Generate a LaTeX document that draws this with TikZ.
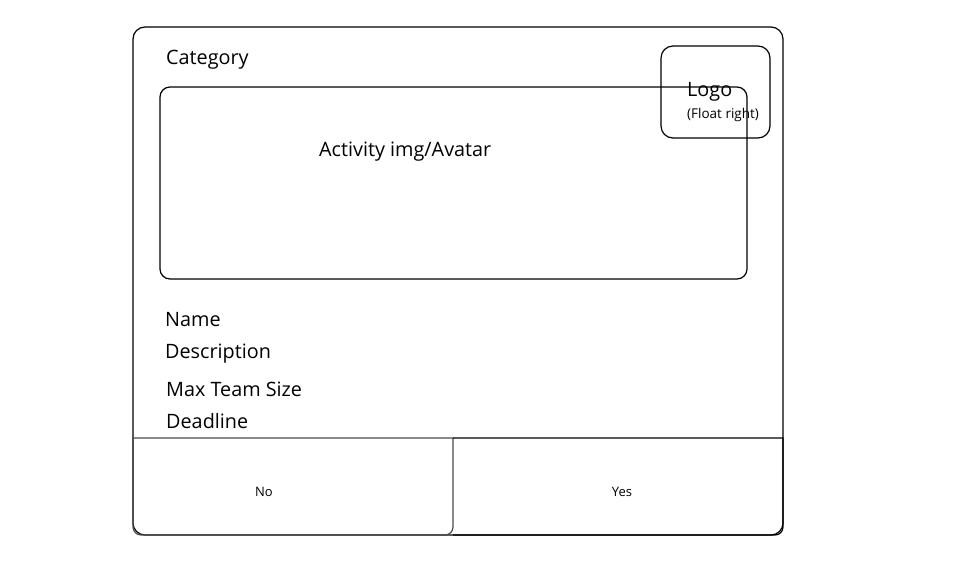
\documentclass[tikz,border=0pt]{standalone}
\usepackage{fontspec}
\setmainfont{Open Sans}
\begin{document}
\begin{tikzpicture}[x=1pt,y=-1pt,
  box/.style={draw=black,line width=1.2pt},
  lbl/.style={anchor=west,inner sep=0pt,font=\fontsize{19.8}{22}\selectfont},
  small/.style={anchor=center,inner sep=0pt,font=\fontsize{13}{15}\selectfont}]
\useasboundingbox (0,0) rectangle (960,560);
\draw[box,rounded corners=12pt] (133,27) rectangle (783,535);
\draw[box,rounded corners=10pt] (160,87) rectangle (747,279);
\draw[box,rounded corners=12pt] (661,46) rectangle (770,138);
\draw[box,draw=black!70] (453,438) -- (133,438) -- (133,527) [rounded corners=8pt] -- (133,535) -- (453,535) [sharp corners] -- cycle;
\draw[box] (453,438) -- (783,438) [rounded corners=8pt] -- (783,535) [sharp corners] -- (453,535);
\node[lbl] (cat) at (166,60) {Category};
\node[lbl] (act) at (319,152) {Activity img/Avatar};
\node[lbl] (logo) at (687,92) {Logo};
\node[anchor=west,inner sep=0pt,font=\fontsize{13.5}{15}\selectfont] (fl) at (687,115) {(Float right)};
\node[lbl] (name) at (165,320) {Name};
\node[lbl] (desc) at (165,354) {Description};
\node[lbl] (max) at (166,389) {Max Team Size};
\node[lbl] (dead) at (166,421) {Deadline};
\node[small] (no) at (264,492) {No};
\node[small] (yes) at (622,492) {Yes};
\end{tikzpicture}
\end{document}
